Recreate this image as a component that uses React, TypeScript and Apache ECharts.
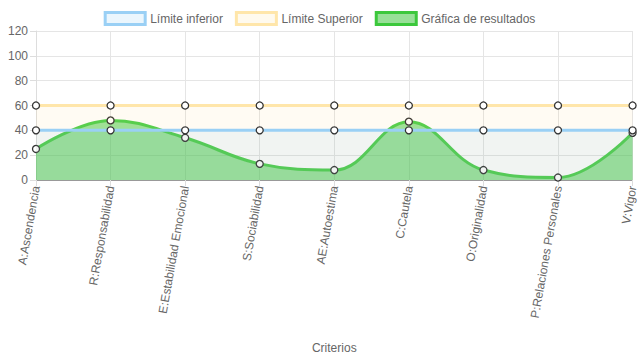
import React, { useEffect, useRef } from "react";
import * as echarts from "echarts";

const categories = [
  "A:Ascendencia",
  "R:Responsabilidad",
  "E:Estabilidad Emocional",
  "S:Sociabilidad",
  "AE:Autoestima",
  "C:Cautela",
  "O:Originalidad",
  "P:Relaciones Personales",
  "V:Vigor",
];
const limiteInferior = [40, 40, 40, 40, 40, 40, 40, 40, 40];
const limiteSuperior = [60, 60, 60, 60, 60, 60, 60, 60, 60];
const resultados = [25, 48, 34, 13, 8, 47, 8, 2, 38];

const FONT = "'Liberation Sans', Arial, Helvetica, sans-serif";
const GRAY = "#666";

export default function App() {
  const ref = useRef<HTMLDivElement>(null);
  useEffect(() => {
    const chart = echarts.init(ref.current!, null, { renderer: "svg" });
    const symbolStyle = { color: "#fff", borderColor: "#333", borderWidth: 1.3 };
    chart.setOption({
      animation: false,
      textStyle: { fontFamily: FONT },
      legend: {
        top: 6,
        left: "center",
        itemWidth: 40,
        itemHeight: 12,
        itemGap: 12,
        textStyle: { color: GRAY, fontSize: 12, fontFamily: FONT },
        data: [
          { name: "Límite inferior", icon: "rect", itemStyle: { color: "#ebf6fd", borderColor: "#9ad0f5", borderWidth: 3 } },
          { name: "Límite Superior", icon: "rect", itemStyle: { color: "#fffaee", borderColor: "#ffe6aa", borderWidth: 3 } },
          { name: "Gráfica de resultados", icon: "rect", itemStyle: { color: "#98e098", borderColor: "#3cc83c", borderWidth: 3 } },
        ],
      },
      grid: { left: 36, right: 4, top: 31, bottom: 180, containLabel: false },
      xAxis: {
        type: "category",
        data: categories,
        boundaryGap: false,
        name: "Criterios",
        nameLocation: "middle",
        nameGap: 162,
        nameTextStyle: { color: GRAY, fontSize: 12, fontFamily: FONT },
        axisLine: { lineStyle: { color: "#999", width: 1 } },
        axisTick: { show: true, length: 6, lineStyle: { color: "#ddd" } },
        axisLabel: { color: GRAY, fontSize: 12, rotate: 80, margin: 6, interval: 0, fontFamily: FONT },
        splitLine: { show: true, lineStyle: { color: "#e5e5e5" } },
      },
      yAxis: {
        type: "value",
        min: 0,
        max: 120,
        interval: 20,
        axisLine: { show: true, lineStyle: { color: "#ddd" } },
        axisTick: { show: true, length: 6, lineStyle: { color: "#ddd" } },
        axisLabel: { color: GRAY, fontSize: 12, margin: 8, fontFamily: FONT },
        splitLine: { show: true, lineStyle: { color: "#e5e5e5" } },
      },
      series: [
        {
          name: "Gráfica de resultados",
          type: "line",
          data: resultados,
          smooth: 0.4,
          z: 2,
          symbol: "circle",
          symbolSize: 7,
          itemStyle: symbolStyle,
          lineStyle: { color: "#4ccf4c", width: 3 },
          areaStyle: { color: "rgba(49,197,53,0.5)", opacity: 1, origin: "start" },
        },
        {
          name: "Límite Superior",
          type: "line",
          data: limiteSuperior,
          z: 3,
          symbol: "circle",
          symbolSize: 7,
          itemStyle: symbolStyle,
          lineStyle: { color: "#ffe6aa", width: 3 },
          areaStyle: { color: "rgba(255,205,86,0.07)", opacity: 1, origin: "start" },
        },
        {
          name: "Límite inferior",
          type: "line",
          data: limiteInferior,
          z: 4,
          symbol: "circle",
          symbolSize: 7,
          itemStyle: symbolStyle,
          lineStyle: { color: "#9ad0f5", width: 3 },
          areaStyle: { color: "rgba(54,162,235,0.07)", opacity: 1, origin: "start" },
        },
      ],
    });
    return () => chart.dispose();
  }, []);
  return <div ref={ref} style={{ width: 639, height: 360, position: "absolute", left: 0, top: 0 }} />;
}
